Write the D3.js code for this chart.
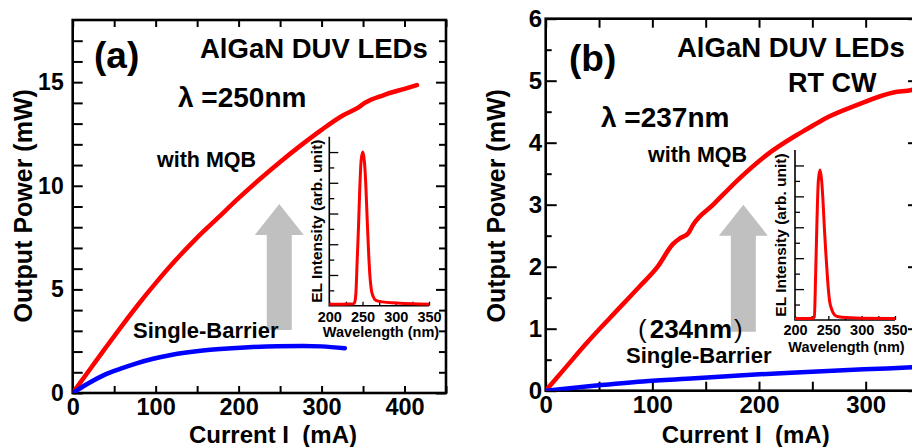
<!DOCTYPE html>
<html lang="en">
<head>
<meta charset="UTF-8">
<script src="https://cdn.jsdelivr.net/npm/d3@7"></script>
<style>
  html, body { margin: 0; padding: 0; background: #fff; }
  svg { display: block; font-family: "Liberation Sans", Arial, sans-serif; font-weight: bold; }
</style>
</head>
<body>
<svg id="chart" width="912" height="447"></svg>
<script>
// ---- panel (a): lambda = 250 nm ----
let currentA_mqb = [0, 20, 40, 60, 80, 100, 125, 150, 175, 200, 225, 250, 275, 300, 325, 345, 352, 375, 400, 415];
let powerA_mqb   = [0, 1.1, 2.2, 3.28, 4.32, 5.3, 6.45, 7.5, 8.45, 9.4, 10.3, 11.15, 11.95, 12.7, 13.38, 13.8, 14.0, 14.38, 14.68, 14.86];
let currentA_sb  = [0, 8, 17, 37, 57, 77, 97, 117, 137, 157, 187, 217, 247, 278, 300, 328];
let powerA_sb    = [0, 0.2, 0.42, 0.85, 1.16, 1.43, 1.65, 1.82, 1.95, 2.05, 2.15, 2.22, 2.26, 2.27, 2.25, 2.16];
let wavelengthA  = [200, 220, 236, 238, 240, 242, 244, 246, 248, 250.5, 253, 255, 257, 259, 261, 263, 266, 270, 280, 300, 325, 350];
let intensityA   = [0.01, 0.01, 0.012, 0.02, 0.08, 0.3, 0.52, 0.78, 0.95, 1.0, 0.93, 0.78, 0.56, 0.36, 0.2, 0.11, 0.06, 0.035, 0.025, 0.018, 0.012, 0.01];

// ---- panel (b): lambda = 237 nm, RT CW ----
let currentB_mqb = [0, 10, 20, 38, 60, 88, 105, 119, 126, 133.7, 138, 157, 182, 207, 235, 245, 263, 292, 326, 343, 350];
let powerB_mqb   = [0, 0.2, 0.4, 0.76, 1.17, 1.68, 2.0, 2.36, 2.46, 2.54, 2.67, 3.0, 3.43, 3.8, 4.12, 4.22, 4.4, 4.61, 4.81, 4.85, 4.88];
let currentB_sb  = [0, 45, 91, 140, 185, 230, 279, 320, 350];
let powerB_sb    = [0, 0.08, 0.15, 0.2, 0.25, 0.29, 0.33, 0.36, 0.385];
let wavelengthB  = [200, 220, 227, 229, 231, 233, 235, 237.5, 240, 242, 244, 246, 248, 250, 252, 255, 258, 262, 270, 300, 350];
let intensityB   = [0.01, 0.01, 0.012, 0.02, 0.3, 0.65, 0.9, 0.97, 0.9, 0.77, 0.6, 0.45, 0.32, 0.2, 0.12, 0.07, 0.04, 0.025, 0.018, 0.012, 0.01];

// ticks
let xTicksMain   = [0, 50, 100, 150, 200, 250, 300, 350, 400, 450];
let xLabelsMain  = [0, 100, 200, 300, 400];
let yMinorA      = d3.range(1, 18).filter(v => v % 5 !== 0);
let yLabelsA     = [0, 5, 10, 15];
let yMinorB      = [0.5, 1.5, 2.5, 3.5, 4.5, 5.5];
let yLabelsB     = [0, 1, 2, 3, 4, 5, 6];
let wlTicks      = [200, 225, 250, 275, 300, 325, 350];
let wlLabels     = [200, 250, 300, 350];
let elMinor      = [0.1, 0.3, 0.5, 0.7, 0.9];
let elMajor      = [0.2, 0.4, 0.6, 0.8, 1.0];

const svg = d3.select('#chart');

function zip(a, b) { return a.map((v, i) => [v, b[i]]); }

function fixAxis(g, size) {
  g.attr('font-family', null).attr('font-size', size);
  g.select('.domain').remove();
  g.selectAll('line').attr('stroke', '#000').attr('stroke-width', 2);
  g.selectAll('text').attr('fill', '#000');
}

function text(txt, px, py, size, anchor) {
  return svg.append('text').attr('x', px).attr('y', py)
    .attr('font-size', size).attr('text-anchor', anchor || 'start').text(txt);
}

function drawPanel(p) {
  const x = d3.scaleLinear().domain(p.xDomain).range(p.xRange);
  const y = d3.scaleLinear().domain(p.yDomain).range(p.yRange);
  const [left, right] = p.xRange, [bottom, top] = p.yRange;
  const xt = xTicksMain.filter(v => v <= p.xDomain[1]);

  svg.append('g').attr('transform', `translate(0,${bottom})`)
    .call(d3.axisBottom(x).tickValues(xt).tickSize(-p.xTick).tickSizeOuter(0).tickPadding(p.xPad)
      .tickFormat(d => xLabelsMain.includes(d) ? d : ''))
    .call(g => fixAxis(g, p.tickFont));
  svg.append('g').attr('transform', `translate(0,${top})`)
    .call(d3.axisTop(x).tickValues(xt).tickSize(-p.xTick).tickSizeOuter(0).tickFormat(''))
    .call(g => fixAxis(g, p.tickFont));
  svg.append('g').attr('transform', `translate(${left},0)`)
    .call(d3.axisLeft(y).tickValues(p.yMinor).tickSize(-p.yMinorTick).tickSizeOuter(0).tickFormat(''))
    .call(g => fixAxis(g, p.tickFont));
  svg.append('g').attr('transform', `translate(${left},0)`)
    .call(d3.axisLeft(y).tickValues(p.yLabels).tickSize(-p.yMajorTick).tickSizeOuter(0).tickPadding(p.yPad)
      .tickFormat(d => d))
    .call(g => fixAxis(g, p.yTickFont));
  svg.append('g').attr('transform', `translate(${right},0)`)
    .call(d3.axisRight(y).tickValues(p.yMinor).tickSize(-p.yRightMinor).tickSizeOuter(0).tickFormat(''))
    .call(g => fixAxis(g, p.tickFont));
  svg.append('g').attr('transform', `translate(${right},0)`)
    .call(d3.axisRight(y).tickValues(p.yLabels).tickSize(-p.yMajorTick).tickSizeOuter(0).tickFormat(''))
    .call(g => fixAxis(g, p.tickFont));

  svg.append('rect').attr('x', left).attr('y', top)
    .attr('width', right - left).attr('height', bottom - top)
    .attr('fill', 'none').attr('stroke', '#000').attr('stroke-width', 2.6);

  // grey arrow, anchored in data space
  const a = p.arrow, ax = x(a.current), sw = 12.5, hw = 24.5;
  const yb = y(a.from), yh = y(a.head), yt = y(a.to);
  svg.append('polygon')
    .attr('points', [[ax - sw, yb], [ax - sw, yh], [ax - hw, yh], [ax, yt], [ax + hw, yh], [ax + sw, yh], [ax + sw, yb]].join(' '))
    .attr('fill', '#c0c0c0');

  const clipId = 'clip' + p.id;
  svg.append('clipPath').attr('id', clipId).append('rect')
    .attr('x', left).attr('y', top).attr('width', right - left).attr('height', bottom - top);

  const line = d3.line().x(d => x(d[0])).y(d => y(d[1])).curve(d3.curveMonotoneX);
  svg.append('path').datum(p.mqb).attr('d', line).attr('clip-path', `url(#${clipId})`)
    .attr('fill', 'none').attr('stroke', '#ff0000').attr('stroke-width', 4.5)
    .attr('stroke-linecap', 'round').attr('stroke-linejoin', 'round');
  svg.append('path').datum(p.sb).attr('d', line).attr('clip-path', `url(#${clipId})`)
    .attr('fill', 'none').attr('stroke', '#0000ff').attr('stroke-width', 4.5)
    .attr('stroke-linecap', 'round').attr('stroke-linejoin', 'round');

  // axis titles
  text('Current I\u00a0\u00a0(mA)', p.xTitleX, 443, 24, 'middle');
  svg.append('text').attr('transform', `translate(${p.yTitleX},205.8) rotate(-90)`)
    .attr('font-size', 25).attr('text-anchor', 'middle').text('Output Power (mW)');
}

function drawInset(c) {
  const x = d3.scaleLinear().domain([200, 350]).range([c.left, c.right]);
  const y = d3.scaleLinear().domain([0, 1.1]).range([c.bottom, c.top]);
  const thin = g => { fixAxis(g, 14.5); g.selectAll('line').attr('stroke-width', 1.3); };

  svg.append('g').attr('transform', `translate(0,${c.bottom})`)
    .call(d3.axisBottom(x).tickValues(wlTicks).tickSize(-4).tickSizeOuter(0).tickPadding(c.pad)
      .tickFormat(d => wlLabels.includes(d) ? d : ''))
    .call(thin);
  svg.append('g').attr('transform', `translate(${c.left},0)`)
    .call(d3.axisLeft(y).tickValues(elMinor).tickSize(-5).tickSizeOuter(0).tickFormat(''))
    .call(thin);
  svg.append('g').attr('transform', `translate(${c.left},0)`)
    .call(d3.axisLeft(y).tickValues(elMajor).tickSize(-9).tickSizeOuter(0).tickFormat(''))
    .call(thin);

  svg.append('path')
    .attr('d', `M${c.left},${c.top}V${c.bottom}H${c.right}`)
    .attr('fill', 'none').attr('stroke', '#000').attr('stroke-width', 1.6);

  const line = d3.line().x(d => x(d[0])).y(d => y(d[1])).curve(d3.curveMonotoneX);
  svg.append('path').datum(c.spectrum).attr('d', line)
    .attr('fill', 'none').attr('stroke', '#ff0000').attr('stroke-width', 3)
    .attr('stroke-linejoin', 'round');

  text('Wavelength (nm)', c.wlX, c.wlY, 14.5, 'middle');
  svg.append('text').attr('transform', `translate(${c.elX},${(c.top + c.bottom) / 2}) rotate(-90)`)
    .attr('font-size', 15.5).attr('text-anchor', 'middle').text('EL Intensity (arb. unit)');
}

// ---- panel (a) ----
drawPanel({
  id: 'a', xDomain: [0, 450], xRange: [72.7, 446], yDomain: [0, 18], yRange: [393, 20],
  xTick: 7, yMinorTick: 10, yMajorTick: 10, yRightMinor: 7, xPad: 5, yPad: 9,
  tickFont: 23.5, yTickFont: 23, yMinor: yMinorA, yLabels: yLabelsA,
  mqb: zip(currentA_mqb, powerA_mqb), sb: zip(currentA_sb, powerA_sb),
  arrow: { current: 249, from: 3.04, head: 7.62, to: 9.12 },
  xTitleX: 273, yTitleX: 31.7
});
text('(a)', 94, 68, 37);
text('AlGaN DUV LEDs', 200, 58, 27.5);
text('\u03bb =250nm', 178, 107, 28);
text('with MQB', 157, 167, 21.5);
text('Single-Barrier', 133, 338, 22);

drawInset({
  left: 329.3, right: 429, bottom: 305.7, top: 136.7, pad: 6,
  spectrum: zip(wavelengthA, intensityA), wlX: 381, wlY: 337.3, elX: 322
});

// ---- panel (b) ----
drawPanel({
  id: 'b', xDomain: [0, 350], xRange: [545.7, 919], yDomain: [0, 6], yRange: [390.7, 18.7],
  xTick: 9, yMinorTick: 6, yMajorTick: 11, yRightMinor: 6, xPad: 5, yPad: 3.5,
  tickFont: 24, yTickFont: 24, yMinor: yMinorB, yLabels: yLabelsB,
  mqb: zip(currentB_mqb, powerB_mqb), sb: zip(currentB_sb, powerB_sb),
  arrow: { current: 185.3, from: 0.95, head: 2.5, to: 3.0 },
  xTitleX: 745.7, yTitleX: 505
});
text('(b)', 569, 71, 37);
text('AlGaN DUV LEDs', 677, 57, 27.5);
text('RT CW', 788, 92, 27);
text('\u03bb =237nm', 601, 127, 28);
text('with MQB', 648, 162, 21.5);
const nm = svg.append('text').attr('x', 638).attr('y', 338).attr('font-size', 26);
nm.append('tspan').attr('font-weight', 'normal').text('(');
nm.append('tspan').attr('dx', 3).text('234nm');
nm.append('tspan').attr('dx', 2).attr('font-weight', 'normal').text(')');
text('Single-Barrier', 626, 363, 22);

drawInset({
  left: 795, right: 895, bottom: 320, top: 150, pad: 5,
  spectrum: zip(wavelengthB, intensityB), wlX: 846.5, wlY: 351.7, elX: 786
});
</script>
</body>
</html>
